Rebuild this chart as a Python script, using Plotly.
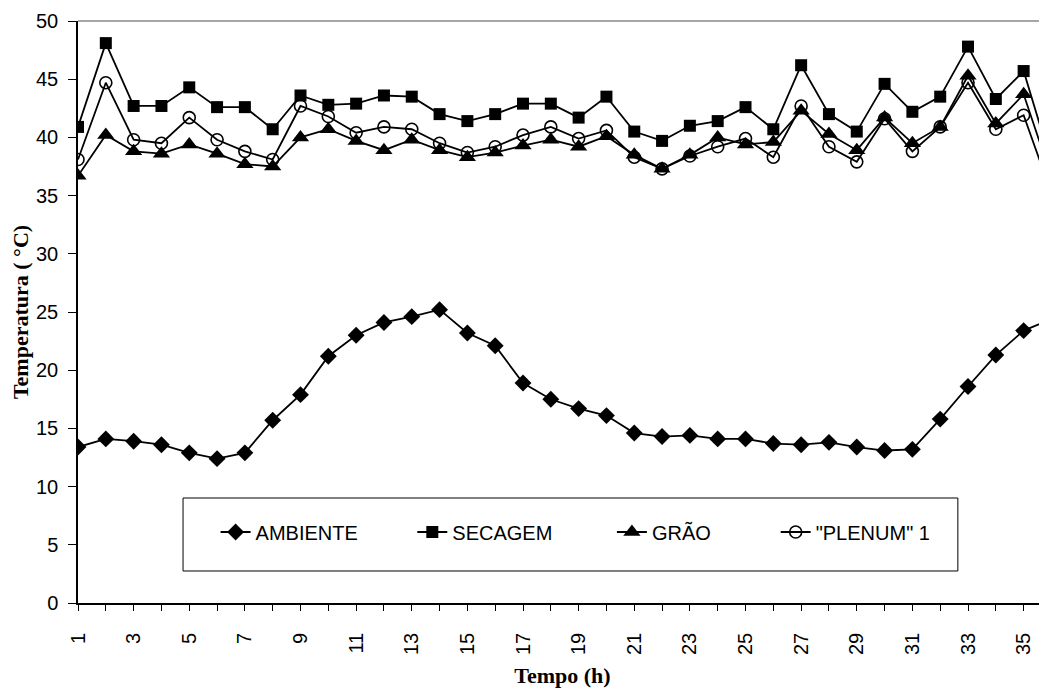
import plotly.graph_objects as go

hours = list(range(1, 37))
tick_labels = [str(h) if h % 2 == 1 else "" for h in hours]
y_ticks = [0, 5, 10, 15, 20, 25, 30, 35, 40, 45, 50]

ambiente = [13.4, 14.1, 13.9, 13.6, 12.9, 12.4, 12.9, 15.7, 17.9, 21.2,
            23.0, 24.1, 24.6, 25.2, 23.2, 22.1, 18.9, 17.5, 16.7, 16.1,
            14.6, 14.3, 14.4, 14.1, 14.1, 13.7, 13.6, 13.8, 13.4, 13.1,
            13.2, 15.8, 18.6, 21.3, 23.4, 24.4]
secagem = [40.9, 48.1, 42.7, 42.7, 44.3, 42.6, 42.6, 40.7, 43.6, 42.8,
           42.9, 43.6, 43.5, 42.0, 41.4, 42.0, 42.9, 42.9, 41.7, 43.5,
           40.5, 39.7, 41.0, 41.4, 42.6, 40.7, 46.2, 42.0, 40.5, 44.6,
           42.2, 43.5, 47.8, 43.3, 45.7, 37.8]
grao = [36.7, 40.2, 38.8, 38.6, 39.4, 38.6, 37.7, 37.5, 40.0, 40.7,
        39.7, 38.9, 39.8, 38.9, 38.3, 38.7, 39.3, 39.8, 39.2, 40.1,
        38.5, 37.3, 38.5, 40.0, 39.4, 39.6, 42.3, 40.3, 38.9, 41.7,
        39.5, 40.9, 45.3, 41.2, 43.7, 36.6]
plenum = [38.1, 44.7, 39.8, 39.5, 41.7, 39.8, 38.8, 38.1, 42.7, 41.8,
          40.4, 40.9, 40.7, 39.5, 38.7, 39.2, 40.2, 40.9, 39.9, 40.6,
          38.3, 37.3, 38.4, 39.2, 39.9, 38.3, 42.7, 39.2, 37.9, 41.6,
          38.8, 40.9, 44.7, 40.7, 41.9, 35.2]

series = [
    ("AMBIENTE", ambiente, dict(symbol="diamond", size=13, color="black")),
    ("SECAGEM", secagem, dict(symbol="square", size=12, color="black")),
    ("GRÃO", grao, dict(symbol="triangle-up", size=15, color="black")),
    ('"PLENUM" 1', plenum, dict(symbol="circle-open", size=12, color="black",
                                line=dict(color="black", width=1.6))),
]

legend_x = [0.142, 0.345, 0.551, 0.720]

fig = go.Figure()
for i, (name, vals, mk) in enumerate(series):
    fig.add_trace(go.Scatter(
        x=hours, y=vals, name=name, mode="lines+markers",
        line=dict(color="black", width=1.8), marker=mk,
        legend="legend" if i == 0 else f"legend{i+1}",
    ))

legend_font = dict(family="Liberation Sans, Arial, sans-serif", size=20, color="black")
leg_common = dict(orientation="h", yanchor="middle", y=0.122, xanchor="left",
                  font=legend_font, bgcolor="rgba(0,0,0,0)", borderwidth=0)
layout_legends = {}
for i, lx in enumerate(legend_x):
    key = "legend" if i == 0 else f"legend{i+1}"
    layout_legends[key] = dict(x=lx, **leg_common)

tick_font = dict(family="Liberation Sans, Arial, sans-serif", size=20, color="black")
title_font = dict(family="Liberation Serif, Times New Roman, serif", size=22, color="black")

xr = [1, 35.84]
yr = [0, 50]

# the page body has an 8px default margin, so the figure is sized to end at the window edge
fig.update_layout(
    width=1039, height=683,
    margin=dict(l=70, r=0, t=13, b=88, autoexpand=False),
    paper_bgcolor="white", plot_bgcolor="white",
    showlegend=True,
    xaxis=dict(range=xr, tickmode="array", tickvals=hours, ticktext=tick_labels,
               tickangle=-90, ticks="outside", ticklen=6, tickwidth=1, tickcolor="black",
               showline=True, linecolor="black", linewidth=1.5, showgrid=False,
               zeroline=False, tickfont=tick_font, ticklabelstandoff=14, automargin=False,
               title=dict(text="<b>Tempo (h)</b>", font=title_font, standoff=14)),
    yaxis=dict(range=yr, tickmode="array", tickvals=y_ticks,
               ticks="outside", ticklen=8, tickwidth=1, tickcolor="black",
               showline=True, linecolor="black", linewidth=1.5, showgrid=False,
               zeroline=False, tickfont=tick_font, ticklabelstandoff=6, automargin=False,
               title=dict(text="<b>Temperatura ( °C)</b>", font=title_font, standoff=5)),
    xaxis2=dict(range=xr, overlaying="x", anchor="y", tickmode="array", tickvals=hours,
                ticks="inside", ticklen=6, tickwidth=1, tickcolor="black", automargin=False,
                showticklabels=False, showgrid=False, zeroline=False, showline=False),
    yaxis2=dict(range=yr, overlaying="y", anchor="x", tickmode="array", tickvals=y_ticks,
                ticks="inside", ticklen=6, tickwidth=1, tickcolor="black", automargin=False,
                showticklabels=False, showgrid=False, zeroline=False, showline=False),
    shapes=[
        dict(type="line", xref="paper", yref="paper", x0=0, x1=1, y0=1, y1=1,
             line=dict(color="#888888", width=1.5)),
        dict(type="rect", xref="paper", yref="paper", x0=0.1084, x1=0.908,
             y0=0.055, y1=0.1804, line=dict(color="black", width=1)),
    ],
    **layout_legends,
)

fig.write_html("out.html")
